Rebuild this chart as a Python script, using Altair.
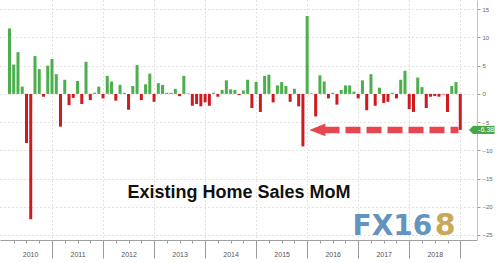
import altair as alt
import pandas as pd

# ---- data: monthly % change (existing home sales, MoM) ----
years = [2010, 2011, 2012, 2013, 2014, 2015, 2016, 2017, 2018]
first_month = {2010: 2}  # series starts Feb 2010
v2010 = [11.6, 5.2, 7.4, 1.3, -8.7, -22.2, 6.7, 4.4, -0.5, 5.0, 6.2]
v2011 = [3.5, -5.8, 2.5, -2.0, -0.7, 2.3, -1.8, 5.7, -1.1, 0.2, 1.3, -0.8]
v2012 = [3.2, 2.2, -1.2, 1.6, 0.2, -2.8, 1.4, 5.1, -1.1, 1.7, 3.6, -1.4]
v2013 = [1.9, 1.6, 0.2, 0.2, 0.9, -0.4, 3.2, 0.1, -2.1, -1.8, -2.2, -1.5]
v2014 = [-2.1, 0.2, -0.5, 0.7, 2.4, 0.8, 0.7, -0.2, 0.6, 2.5, -2.5, 2.1]
v2015 = [-3.2, 3.2, 3.4, -1.5, 1.5, 2.1, 1.4, -1.4, 0.9, -2.2, -9.3, 13.8]
v2016 = [0.1, -4.0, 3.3, 2.2, -0.8, 0.2, -1.9, 0.7, 1.5, 1.5, 0.4, -0.8]
v2017 = [2.4, -2.9, 3.5, -2.1, 1.1, -1.6, -1.4, 0.2, -0.8, 2.5, 4.1, -2.7]
v2018 = [-3.2, 2.9, 1.2, -2.5, -0.5, -0.4, -0.5, -0.1, -3.2, 1.4, 2.1, -6.38]
series = [v2010, v2011, v2012, v2013, v2014, v2015, v2016, v2017, v2018]

y_ticks = [15, 10, 5, 0, -5, -10, -15, -20, -25]
year_label_pos = [2010.57, 2011.5, 2012.5, 2013.5, 2014.5, 2015.5, 2016.5, 2017.5, 2018.5]
year_bounds = [2011, 2012, 2013, 2014, 2015, 2016, 2017, 2018, 2019]
quarter_ticks = [y + q / 4 for y in range(2010, 2019) for q in (1, 2, 3)]

title_text = ["Existing Home Sales MoM"]
last_label = ["-6.38"]
last_value = v2018[-1]

# annotation anchors in data units (x: year fraction, y: percent)
arrow_head = [2016.20]
arrow_span = [2016.34, 2018.965]
title_anchor = [2014.664, -18.36]
wm_fx = [2016.89, -25.0]
wm_8 = [2018.50, -25.0]
tag_x = [2019.249, 2019.671]
tag_text_x = [2019.51]

GREEN = "#4cae4c"
RED = "#cf1b20"
ARROW = "#e8464e"

rows = []
for y, vals in zip(years, series):
    m0 = first_month.get(y, 1)
    for k, v in enumerate(vals):
        m = m0 + k
        rows.append({"t": y + m / 12.0, "v": v})
df = pd.DataFrame(rows)

xscale = alt.Scale(domain=[2010.079, 2019.230], nice=False, zero=False)
yscale = alt.Scale(domain=[-25.89, 16.64], nice=False, zero=False)

bars = alt.Chart(df).mark_bar(size=3).encode(
    x=alt.X("t:Q", scale=xscale, title=None,
            axis=alt.Axis(orient="bottom", values=year_label_pos,
                          labelExpr="floor(datum.value)", tickSize=0,
                          domain=True, domainColor="#a0a0a0", grid=False,
                          labelColor="#555555", labelFontSize=7,
                          labelFont="Liberation Sans", labelPadding=10,
                          labelFlush=False, labelOverlap=False)),
    y=alt.Y("v:Q", scale=yscale, title=None,
            axis=alt.Axis(orient="right", values=y_ticks, grid=True,
                          gridColor="#c4c4c4", gridDash=[1, 3],
                          domainColor="#a8d8a0", tickColor="#999999",
                          tickSize=3, labelColor="#666666", labelFontSize=6,
                          labelFont="Liberation Sans", labelPadding=2,
                          labelFlush=False, labelOverlap=False)),
    color=alt.condition("datum.v > 0", alt.value(GREEN), alt.value(RED)),
)

arrow_df = pd.DataFrame({"x": [arrow_span[0]], "x2": [arrow_span[1]], "y": [last_value]})
arrow_line = alt.Chart(arrow_df).mark_rule(
    color=ARROW, strokeWidth=6.5, strokeDash=[15, 6]
).encode(
    x=alt.X("x:Q", scale=xscale, title=None,
            axis=alt.Axis(orient="bottom", values=year_bounds, tickSize=18,
                          labels=False, domain=False, grid=True,
                          gridColor="#c4c4c4", gridDash=[1, 3],
                          tickColor="#9a9a9a")),
    x2="x2:Q",
    y=alt.Y("y:Q", scale=yscale, axis=None),
)

head_df = pd.DataFrame({"x": arrow_head, "y": [last_value]})
arrow_head_mark = alt.Chart(head_df).mark_point(
    shape="M-1,0L1,-0.8L1,0.8Z", filled=True, size=256, color=ARROW, opacity=1
).encode(
    x=alt.X("x:Q", scale=xscale, title=None,
            axis=alt.Axis(orient="bottom", values=quarter_ticks, tickSize=3,
                          labels=False, domain=False, grid=False,
                          tickColor="#9a9a9a")),
    y=alt.Y("y:Q", scale=yscale, axis=None),
)

tag_df = pd.DataFrame({"x": [tag_x[0]], "x2": [tag_x[1]],
                       "y": [last_value + 0.72], "y2": [last_value - 0.72]})
tag_rect = alt.Chart(tag_df).mark_rect(color="#46a646").encode(
    x=alt.X("x:Q", scale=xscale, axis=None),
    x2="x2:Q",
    y=alt.Y("y:Q", scale=yscale, axis=None),
    y2="y2:Q",
)
tip_df = pd.DataFrame({"x": [tag_x[0]], "y": [last_value]})
tag_tip = alt.Chart(tip_df).mark_point(
    shape="M-1,0L0,-1L0,1Z", filled=True, size=64, color="#46a646", opacity=1
).encode(
    x=alt.X("x:Q", scale=xscale, axis=None),
    y=alt.Y("y:Q", scale=yscale, axis=None),
)
tag_txt_df = pd.DataFrame({"x": tag_text_x, "y": [last_value], "label": last_label})
tag_text = alt.Chart(tag_txt_df).mark_text(
    color="white", fontSize=7, font="Liberation Sans", align="center", baseline="middle"
).encode(
    x=alt.X("x:Q", scale=xscale, axis=None),
    y=alt.Y("y:Q", scale=yscale, axis=None),
    text="label:N",
)

title_df = pd.DataFrame({"x": [title_anchor[0]], "y": [title_anchor[1]], "label": title_text})
title = alt.Chart(title_df).mark_text(
    font="Liberation Sans", fontWeight="bold", fontSize=18, color="#111111",
    align="center", baseline="alphabetic"
).encode(
    x=alt.X("x:Q", scale=xscale, axis=None),
    y=alt.Y("y:Q", scale=yscale, axis=None),
    text="label:N",
)

wm_fx_df = pd.DataFrame({"x": [wm_fx[0]], "y": [wm_fx[1]], "label": ["FX16"]})
watermark_fx = alt.Chart(wm_fx_df).mark_text(
    font="DejaVu Sans", fontWeight="bold", fontSize=28, align="left",
    baseline="alphabetic", color="#5b8fbd", opacity=0.95
).encode(
    x=alt.X("x:Q", scale=xscale, axis=None),
    y=alt.Y("y:Q", scale=yscale, axis=None),
    text="label:N",
)
wm_8_df = pd.DataFrame({"x": [wm_8[0]], "y": [wm_8[1]], "label": ["8"]})
watermark_8 = alt.Chart(wm_8_df).mark_text(
    font="DejaVu Sans", fontWeight="bold", fontSize=30, align="left",
    baseline="alphabetic", color="#c9a44f", opacity=0.95
).encode(
    x=alt.X("x:Q", scale=xscale, axis=None),
    y=alt.Y("y:Q", scale=yscale, axis=None),
    text="label:N",
)

chart = alt.layer(
    bars, arrow_line, arrow_head_mark, title, watermark_fx, watermark_8,
    tag_rect, tag_tip, tag_text
).resolve_axis(x="independent", y="independent").properties(
    width=477, height=240,
    autosize=alt.AutoSizeParams(type="none"),
    padding={"left": 0, "top": 0, "right": 23, "bottom": 23},
    background="white",
).configure_view(strokeWidth=0)

chart.save("out.html", embed_options={"renderer": "svg", "actions": False})
